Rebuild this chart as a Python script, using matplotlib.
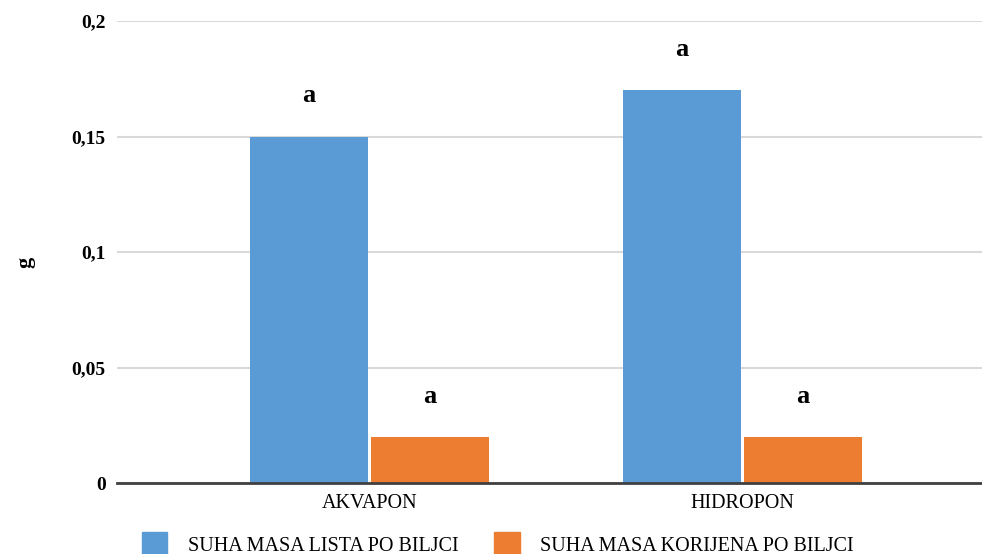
import matplotlib
matplotlib.use("Agg")
import matplotlib.pyplot as plt
import numpy as np
from matplotlib.patches import Patch

categories = ["AKVAPON", "HIDROPON"]
series_names = ["SUHA MASA LISTA PO BILJCI", "SUHA MASA KORIJENA PO BILJCI"]
leaf_mass = [0.15, 0.17]
root_mass = [0.02, 0.02]
leaf_letters = ["a", "a"]
root_letters = ["a", "a"]
yticks = [0, 0.05, 0.1, 0.15, 0.2]
ytick_labels = ["0", "0,05", "0,1", "0,15", "0,2"]

BLUE = "#5B9BD5"
ORANGE = "#ED7D31"
plt.rcParams['font.family'] = 'serif'
plt.rcParams['font.serif'] = ['Liberation Serif', 'DejaVu Serif']

fig = plt.figure(figsize=(9.82, 5.54), dpi=100)
ax = fig.add_axes([0.119, 0.128, 0.881, 0.834])

x = np.arange(len(categories))
w = 0.316
off = 0.1625
b1 = ax.bar(x - off, leaf_mass, w, color=BLUE, zorder=3)
b2 = ax.bar(x + off, root_mass, w, color=ORANGE, zorder=3)

for bars, letters in ((b1, leaf_letters), (b2, root_letters)):
    for r, t in zip(bars, letters):
        ax.annotate(t, (r.get_x() + r.get_width() / 2, r.get_height()),
                    xytext=(0, 21), textcoords="offset points",
                    ha="center", va="bottom", fontsize=19, fontweight="bold")

ax.set_xlim(-0.678, 1.643)
ax.set_ylim(0, 0.2)
ax.set_yticks(yticks)
ax.set_yticklabels(ytick_labels, fontsize=14, fontweight="bold")
ax.set_xticks(x)
ax.set_xticklabels(categories, fontsize=14.5)
ax.tick_params(axis="both", length=0)
ax.tick_params(axis="y", pad=8)
ax.tick_params(axis="x", pad=8)
ax.grid(axis="y", color="#d9d9d9", linewidth=1.5, zorder=0)
for s in ["top", "right", "left"]:
    ax.spines[s].set_visible(False)
ax.spines["bottom"].set_color("#404040")
ax.spines["bottom"].set_linewidth(2)
ax.spines["bottom"].set_zorder(4)

fig.text(0.026, 0.527, "g", rotation=90, fontsize=16, fontweight="bold",
         ha="center", va="center")

handles = [Patch(color=BLUE), Patch(color=ORANGE)]
fig.legend(handles, series_names, loc="center", bbox_to_anchor=(0.507, 0.018),
           ncol=2, frameon=False, fontsize=14.5, handlelength=1.25,
           handleheight=1.5, handletextpad=1.0, columnspacing=1.8)

fig.savefig("out.png", dpi=100)
